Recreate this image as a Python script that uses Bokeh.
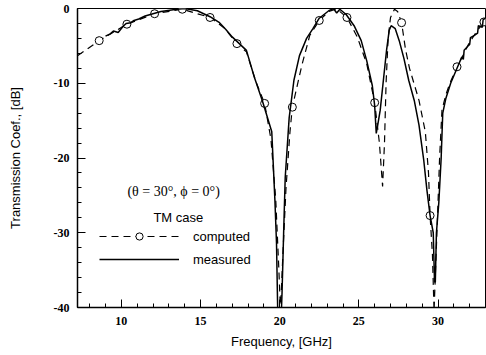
from bokeh.plotting import figure
from bokeh.models import Legend, LegendItem, Label, FixedTicker, Range1d
from bokeh.embed import file_html
from bokeh.resources import INLINE

# computed (dashed) curve, GHz / dB
comp_f = [7.25, 8.6, 10.35, 12.1, 13.85, 15.6, 16.5, 17.3, 17.9, 18.5, 19.05, 19.45, 19.75,
          19.95, 20.05, 20.2, 20.4, 20.65, 20.8, 21.4, 21.9, 22.5, 23.1, 23.6, 24.25, 24.9,
          25.5, 26.0, 26.3, 26.5, 26.62, 26.72, 26.85, 27.0, 27.25, 27.45, 27.7, 27.95, 28.2,
          28.8, 29.2, 29.4, 29.5, 29.65, 29.75, 29.88, 30.0, 30.1, 30.25, 30.5, 30.75, 31.2,
          31.6, 31.95, 32.4, 32.9, 33.0]
comp_db = [-6.3, -4.3, -2.1, -0.7, -0.1, -1.2, -2.6, -4.7, -5.8, -9.8, -12.7, -17.5, -25.5,
           -35.0, -40.5, -33.0, -24.0, -16.5, -13.2, -7.6, -3.6, -1.6, -0.4, -0.05, -1.2, -3.8,
           -7.4, -12.6, -18.0, -23.8, -18.0, -10.0, -4.0, -1.2, -0.1, -0.4, -1.9, -5.5, -8.0,
           -12.3, -16.5, -22.0, -27.7, -33.0, -40.5, -33.0, -26.0, -20.0, -13.6, -11.5, -10.0, -7.8,
           -6.2, -4.7, -3.2, -1.8, -1.5]

# circle markers on the computed curve
mark_f = [8.6, 10.35, 12.1, 13.85, 15.6, 17.3, 19.05, 20.8, 22.5, 24.25, 26.0, 27.7, 29.5, 31.2, 32.9]
mark_db = [-4.3, -2.1, -0.7, -0.1, -1.2, -4.7, -12.7, -13.2, -1.6, -1.2, -12.6, -1.9, -27.7, -7.8, -1.8]

# measured (solid) curve
meas_f = [9.0, 9.3, 9.5, 9.8, 10.1, 10.3, 10.6, 10.8, 11.1, 11.5, 12.5, 13.5, 14.0, 14.8, 15.6,
          16.2, 16.6, 17.0, 17.5, 17.9, 18.4, 18.9, 19.5, 19.7, 19.8, 19.88, 20.1, 20.15, 20.25,
          20.35, 20.6, 20.9, 21.25, 21.7, 22.1, 22.5, 23.1, 23.4, 23.6, 23.8, 24.2, 24.7, 25.15,
          25.5, 25.85, 26.0, 26.1, 26.2, 26.35, 26.55, 26.75, 26.92, 27.04, 27.3, 27.55, 27.85,
          28.15, 28.5, 28.8, 29.1, 29.3, 29.5, 29.7, 29.78, 29.83, 29.9, 30.05, 30.2, 30.3, 30.5,
          30.8, 31.2, 31.5, 31.6, 31.65, 31.9, 32.0, 32.05, 32.3, 32.5, 32.55, 32.8, 32.85, 33.0]
meas_db = [-3.7, -3.4, -3.0, -3.2, -2.4, -2.0, -1.9, -1.6, -1.4, -1.0, -0.4, -0.1, 0.0, -0.3, -1.1,
           -1.9, -2.8, -3.8, -4.8, -5.6, -9.2, -12.3, -16.5, -25.7, -31.4, -41.0, -41.0, -38.0, -30.0,
           -22.6, -14.6, -9.6, -6.3, -4.0, -2.7, -1.3, -0.3, 0.0, -0.6, -0.1, -0.8, -2.3, -4.3,
           -7.0, -10.3, -13.0, -16.7, -15.5, -13.6, -9.6, -5.6, -2.9, -2.3, -2.7, -4.3, -6.7,
           -9.6, -12.3, -15.6, -20.3, -24.3, -27.7, -30.0, -36.6, -36.6, -30.0, -26.0, -20.0, -14.0, -12.0,
           -10.0, -8.0, -6.5, -6.8, -5.6, -5.0, -4.8, -3.9, -3.6, -3.3, -2.3, -2.5, -1.5, -1.3]

x_ticks = [10, 15, 20, 25, 30]
y_ticks = [0, -10, -20, -30, -40]
y_tick_labels = {0: "0", -10: "-10", -20: "-20", -30: "-30", -40: "-40"}

p = figure(width=486, height=355, output_backend="svg", toolbar_location=None,
           x_range=Range1d(7.23, 33.0), y_range=Range1d(-40, 0),
           min_border_left=77, min_border_right=1, min_border_top=8, min_border_bottom=48)
p.xgrid.visible = False
p.ygrid.visible = False
p.outline_line_color = "black"
p.outline_line_width = 1

r_comp = p.line(comp_f, comp_db, line_color="black", line_width=1.2, line_dash="7 5")
r_mark = p.scatter(mark_f, mark_db, marker="circle", size=8, fill_color="white",
                   line_color="black", line_width=1)
r_meas = p.line(meas_f, meas_db, line_color="black", line_width=1.5)

tick_font = "Liberation Sans Narrow"
xa = p.xaxis[0]
xa.ticker = FixedTicker(ticks=x_ticks, minor_ticks=list(range(8, 34)))
xa.axis_label = "Frequency, [GHz]"
ya = p.yaxis[0]
ya.ticker = FixedTicker(ticks=y_ticks, minor_ticks=list(range(-40, 1, 2)))
ya.major_label_overrides = y_tick_labels
ya.axis_label = "Transmission Coef., [dB]"
for ax in (xa, ya):
    ax.major_tick_in = 8
    ax.major_tick_out = 0
    ax.minor_tick_in = 4
    ax.minor_tick_out = 0
    ax.axis_line_width = 1.5
    ax.axis_line_color = "black"
    ax.major_tick_line_color = "black"
    ax.minor_tick_line_color = "black"
    ax.major_label_text_font = tick_font
    ax.major_label_text_font_size = "12px"
    ax.major_label_text_font_style = "bold"
    ax.major_label_text_color = "black"
    ax.axis_label_text_font = "Liberation Sans"
    ax.axis_label_text_font_size = "13px"
    ax.axis_label_text_font_style = "normal"
    ax.axis_label_text_color = "black"
xa.major_label_standoff = 9
xa.axis_label_standoff = 6
ya.major_label_standoff = 8
ya.axis_label_standoff = 28

legend = Legend(items=[LegendItem(label="computed", renderers=[r_comp, r_mark]),
                       LegendItem(label="measured", renderers=[r_meas])],
                location=(22, 39), glyph_width=80, glyph_height=18, label_standoff=14,
                spacing=5, padding=0, margin=0, border_line_color=None,
                background_fill_alpha=0, label_text_font="Liberation Sans",
                label_text_font_size="13px", label_text_color="black")
p.add_layout(legend)

p.add_layout(Label(x=13.3, y=-24.5, text="(θ = 30°, ϕ = 0°)", text_font="Liberation Serif",
                   text_font_size="14px", text_align="center", text_baseline="middle",
                   text_color="black"))
p.add_layout(Label(x=13.6, y=-28.0, text="TM case", text_font="Liberation Sans",
                   text_font_size="13px", text_align="center", text_baseline="middle",
                   text_color="black"))

open("out.html", "w").write(file_html(p, INLINE))
